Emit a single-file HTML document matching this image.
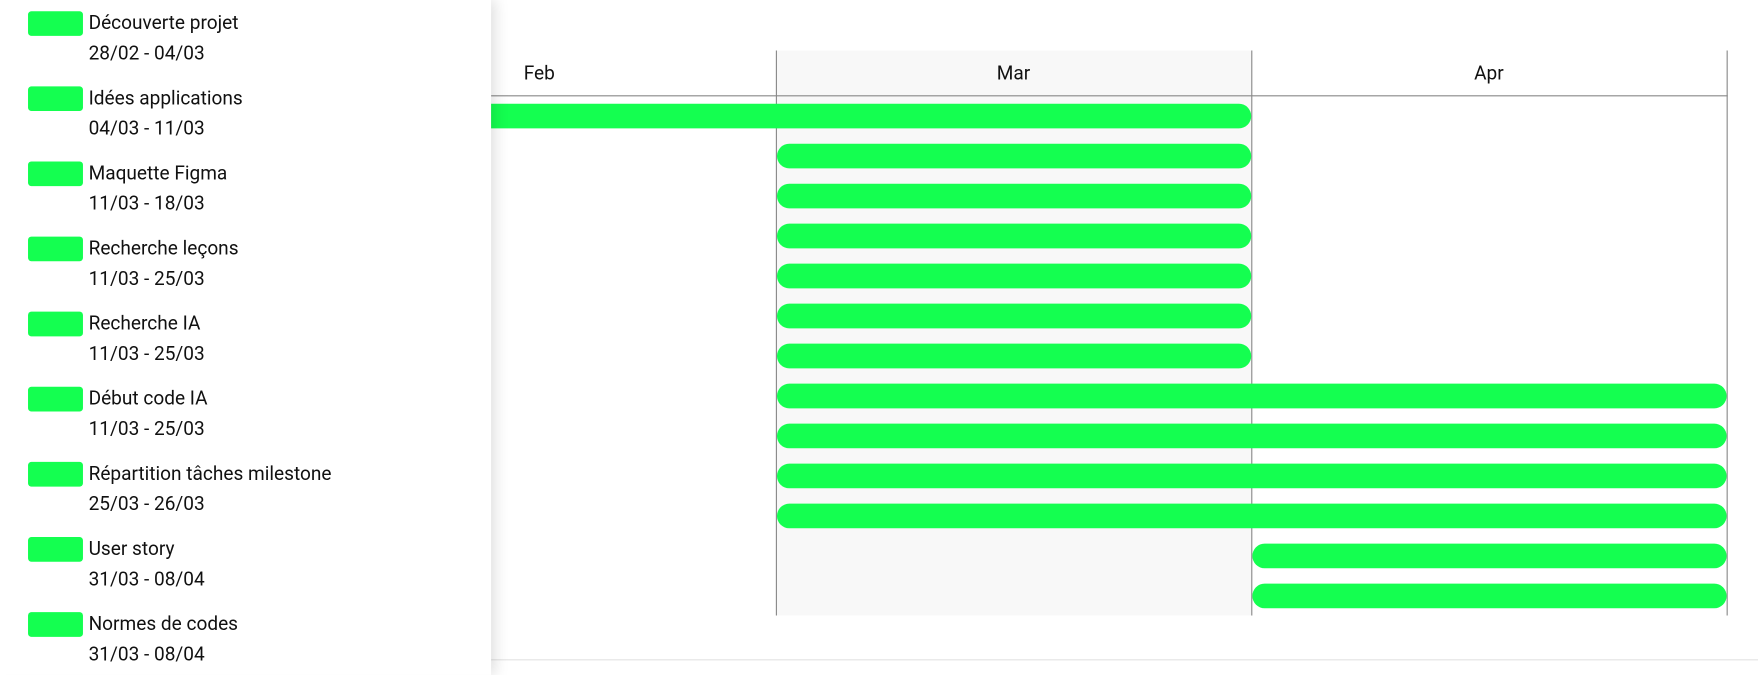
<!DOCTYPE html>
<html><head><meta charset="utf-8">
<style>
html,body{margin:0;padding:0}
body{width:1758px;height:675px;overflow:hidden;background:#fff;font-family:"Roboto","Liberation Sans",sans-serif;position:relative}
#wrap{position:absolute;left:0;top:0;width:1568px;height:602px;transform:scale(1.12117);transform-origin:0 0}
#panel{position:absolute;left:0;top:0;width:438px;height:602px;background:#fff;box-shadow:4px 0 12px rgba(0,0,0,0.13);z-index:2}
.item{position:absolute;left:25px}
.sw{position:absolute;left:0;top:0;width:49px;height:22px;background:#14ff50;border-radius:3px}
.t{position:absolute;left:54px;top:0;font-size:17px;line-height:22px;color:#111;white-space:nowrap}
.d{position:absolute;left:54px;top:27px;font-size:17px;line-height:22px;color:#111;white-space:nowrap}
#chart{position:absolute;left:0;top:0;z-index:1}
#bottomline{position:absolute;left:438px;right:0;top:588px;height:1px;background:#e3e3e3}
</style></head><body>
<div id="wrap">
<div id="panel"></div>
<svg id="chart" width="1568" height="602"></svg>
<div id="bottomline"></div>
</div>
<script>
const legendNames=["Découverte projet","Idées applications","Maquette Figma","Recherche leçons","Recherche IA","Début code IA","Répartition tâches milestone","User story","Normes de codes"];
const legendDates=["28/02 - 04/03","04/03 - 11/03","11/03 - 18/03","11/03 - 25/03","11/03 - 25/03","11/03 - 25/03","25/03 - 26/03","31/03 - 08/04","31/03 - 08/04"];
const months=["Feb","Mar","Apr"];
// bar start/end in month units (0 = start of Feb)
const barStart=[0,1,1,1,1,1,1,1,1,1,1,2,2];
const barEnd=[2,2,2,2,2,2,2,3,3,3,3,3,3];

const panel=document.getElementById('panel');
legendNames.forEach((n,i)=>{
  const it=document.createElement('div');it.className='item';it.style.top=(10+i*67)+'px';
  
  
  it.innerHTML='<div class="sw"></div><div class="t"></div><div class="d"></div>';
  it.querySelector('.t').textContent=n;it.querySelector('.d').textContent=legendDates[i];
  panel.appendChild(it);
});

const svg=document.getElementById('chart');const NS='http://www.w3.org/2000/svg';
const x0=268,mw=424,top0=45,hdrB=85,gridB=549,rowY0=103.5,rowH=35.67,barH=22;
const X=m=>x0+m*mw;
function el(t,a,name){const e=document.createElementNS(NS,t);for(const k in a)e.setAttribute(k,a[k]);svg.appendChild(e);return e;}
el('rect',{x:X(1),y:top0,width:mw,height:gridB-top0,fill:'#f8f8f8'},'month-shade');
months.forEach((m,i)=>{
  const t=el('text',{x:i==0?481:X(i)+mw/2,y:71,'text-anchor':'middle','font-size':17,fill:'#111','font-family':'Roboto,Liberation Sans,sans-serif'},'month-label');t.textContent=m;
});
[1,2,3].forEach(i=>el('line',{x1:X(i)+0.5,x2:X(i)+0.5,y1:top0,y2:gridB,stroke:'#888','stroke-width':1},'month-divider'));
el('line',{x1:438,x2:X(3)+1,y1:hdrB+0.5,y2:hdrB+0.5,stroke:'#888','stroke-width':1},'header-line');
barStart.forEach((s,i)=>{
  const x1=X(s),x2=X(barEnd[i]);const y=rowY0+i*rowH-barH/2;
  el('rect',{x:x1+1,y:y,width:x2-x1-1,height:barH,rx:11,ry:11,fill:'#14ff50'},'task-bar');
});
</script>
</body></html>
